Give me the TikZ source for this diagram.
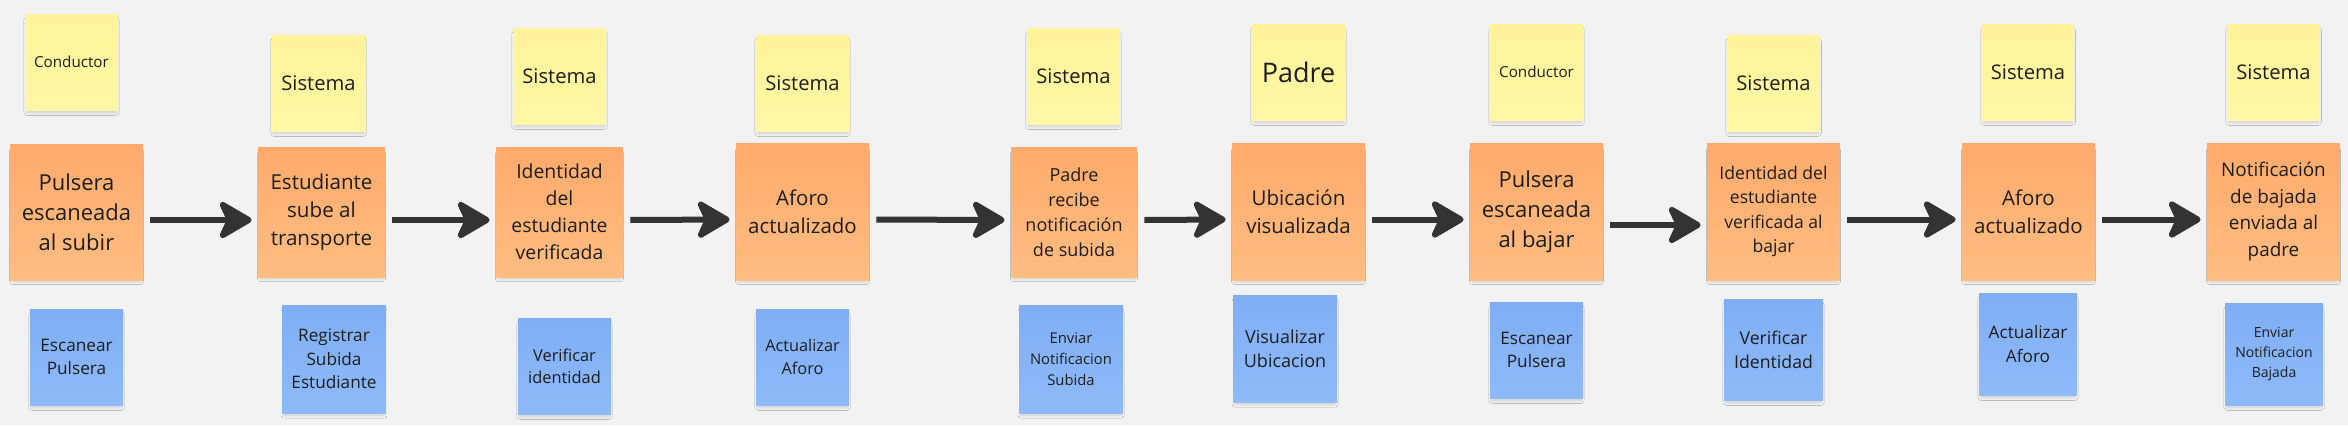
\documentclass[tikz,border=0pt]{standalone}
\usepackage{fontspec}
\setmainfont{Open Sans}
\usetikzlibrary{arrows.meta,shadows.blur}
\definecolor{bg}{HTML}{F2F2F2}
\definecolor{txt}{HTML}{1E1E1E}
\definecolor{arrc}{HTML}{333333}
\definecolor{yelT}{HTML}{FFF49A}
\definecolor{yelB}{HTML}{FFF7A6}
\definecolor{oraT}{HTML}{FFAA6C}
\definecolor{oraB}{HTML}{FFBD82}
\definecolor{bluT}{HTML}{7FAEF5}
\definecolor{bluB}{HTML}{8EBAF8}
\newcommand\fs[2]{\fontsize{#1}{#2}\selectfont}
\newcommand\stk[7]{%
  \pgfmathsetmacro\stkw{(#5-#3)*0.5}%
  \pgfmathsetmacro\stkh{(#6-#4)*0.5}%
  \node[#1, minimum width=\stkw pt, minimum height=\stkh pt] (#2) at ({(#3+#5)/2},{(#4+#6)/2}) {#7};}
\tikzset{
  sticky/.style={inner sep=0pt, align=center, text=txt,
    blur shadow={shadow xshift=0pt, shadow yshift=-2.2pt, shadow scale=0.96,
      shadow blur radius=1.6pt, shadow blur steps=8, shadow opacity=16}},
  yel/.style={sticky, top color=yelT, bottom color=yelB},
  ora/.style={sticky, top color=oraT, bottom color=oraB},
  blu/.style={sticky, top color=bluT, bottom color=bluB},
  arr/.style={draw=arrc, line width=3pt, shorten <=3.5pt, shorten >=3pt,
    -{Stealth[length=19pt, width=22pt, inset=5pt, round]}}
}
\begin{document}
\begin{tikzpicture}[x=0.5pt, y=-0.5pt]
\fill[bg] (0,0) rectangle (2348,425);
\useasboundingbox (0,0) rectangle (2348,425);
% yellow
\stk{yel, font=\fs{7.6}{10}}{y1}{25}{14}{118}{110}{Conductor}
\stk{yel, font=\fs{10.1}{13}}{y2}{272}{35}{365}{131}{Sistema}
\stk{yel, font=\fs{10.1}{13}}{y3}{513}{28}{606}{124}{Sistema}
\stk{yel, font=\fs{10.1}{13}}{y4}{756}{35}{849}{131}{Sistema}
\stk{yel, font=\fs{10.1}{13}}{y5}{1027}{28}{1120}{124}{Sistema}
\stk{yel, font=\fs{13.5}{16}}{y6}{1252}{24}{1345}{120}{Padre}
\stk{yel, font=\fs{7.6}{10}}{y7}{1490}{24}{1583}{120}{Conductor}
\stk{yel, font=\fs{10.1}{13}}{y8}{1727}{35}{1820}{131}{Sistema}
\stk{yel, font=\fs{10.1}{13}}{y9}{1982}{24}{2074}{120}{Sistema}
\stk{yel, font=\fs{10.1}{13}}{y10}{2227}{24}{2320}{120}{Sistema}
% orange
\stk{ora, font=\fs{11}{15}}{o1}{10}{144}{143}{280}{Pulsera\\escaneada\\al subir}
\stk{ora, font=\fs{10.3}{14}}{o2}{258}{147}{385}{277}{Estudiante\\sube al\\transporte}
\stk{ora, font=\fs{9.7}{13.5}}{o3}{496}{147}{623}{277}{Identidad\\del\\estudiante\\verificada}
\stk{ora, font=\fs{10.25}{14}}{o4}{736}{143}{869}{280}{Aforo\\actualizado}
\stk{ora, font=\fs{9}{12.5}}{o5}{1011}{147}{1137}{277}{Padre\\recibe\\notificación\\de subida}
\stk{ora, font=\fs{10.25}{14}}{o6}{1232}{143}{1365}{280}{Ubicación\\visualizada}
\stk{ora, font=\fs{11}{15}}{o7}{1470}{143}{1603}{280}{Pulsera\\escaneada\\al bajar}
\stk{ora, font=\fs{8.8}{12.2}}{o8}{1707}{143}{1840}{280}{Identidad del\\estudiante\\verificada al\\bajar}
\stk{ora, font=\fs{10.25}{14}}{o9}{1962}{143}{2095}{280}{Aforo\\actualizado}
\stk{ora, font=\fs{9.45}{13.2}}{o10}{2207}{143}{2340}{280}{Notificación\\de bajada\\enviada al\\padre}
% blue
\stk{blu, font=\fs{8.6}{11.8}}{b1}{30}{309}{123}{405}{Escanear\\Pulsera}
\stk{blu, font=\fs{8.6}{11.7}}{b2}{282}{305}{386}{413}{Registrar\\Subida\\Estudiante}
\stk{blu, font=\fs{8.2}{10.9}}{b3}{518}{318}{611}{414}{Verificar\\identidad}
\stk{blu, font=\fs{8.15}{11.4}}{b4}{756}{309}{849}{405}{Actualizar\\Aforo}
\stk{blu, font=\fs{7.4}{10.4}}{b5}{1019}{305}{1123}{413}{Enviar\\Notificacion\\Subida}
\stk{blu, font=\fs{9}{12}}{b6}{1233}{295}{1337}{402}{Visualizar\\Ubicacion}
\stk{blu, font=\fs{8.6}{11.8}}{b7}{1490}{302}{1583}{398}{Escanear\\Pulsera}
\stk{blu, font=\fs{8.85}{12}}{b8}{1724}{299}{1823}{400}{Verificar\\Identidad}
\stk{blu, font=\fs{8.6}{11.7}}{b9}{1979}{293}{2077}{395}{Actualizar\\Aforo}
\stk{blu, font=\fs{7}{9.9}}{b10}{2225}{303}{2323}{405}{Enviar\\Notificacion\\Bajada}
% arrows
\draw[arr] ([yshift=-4pt]o1.east) -- ([yshift=-4pt]o2.west);
\draw[arr] ([yshift=-4pt]o2.east) -- ([yshift=-4pt]o3.west);
\draw[arr] ([yshift=-4pt]o3.east) -- ([yshift=-4pt]o4.west);
\draw[arr] ([yshift=-4pt]o4.east) -- ([yshift=-4pt]o5.west);
\draw[arr] ([yshift=-4pt]o5.east) -- ([yshift=-4pt]o6.west);
\draw[arr] ([yshift=-4pt]o6.east) -- ([yshift=-4pt]o7.west);
\draw[arr] ([yshift=-6.75pt]o7.east) -- ([yshift=-6.75pt]o8.west);
\draw[arr] ([yshift=-4pt]o8.east) -- ([yshift=-4pt]o9.west);
\draw[arr] ([yshift=-4pt]o9.east) -- ([yshift=-4pt]o10.west);
\end{tikzpicture}
\end{document}
